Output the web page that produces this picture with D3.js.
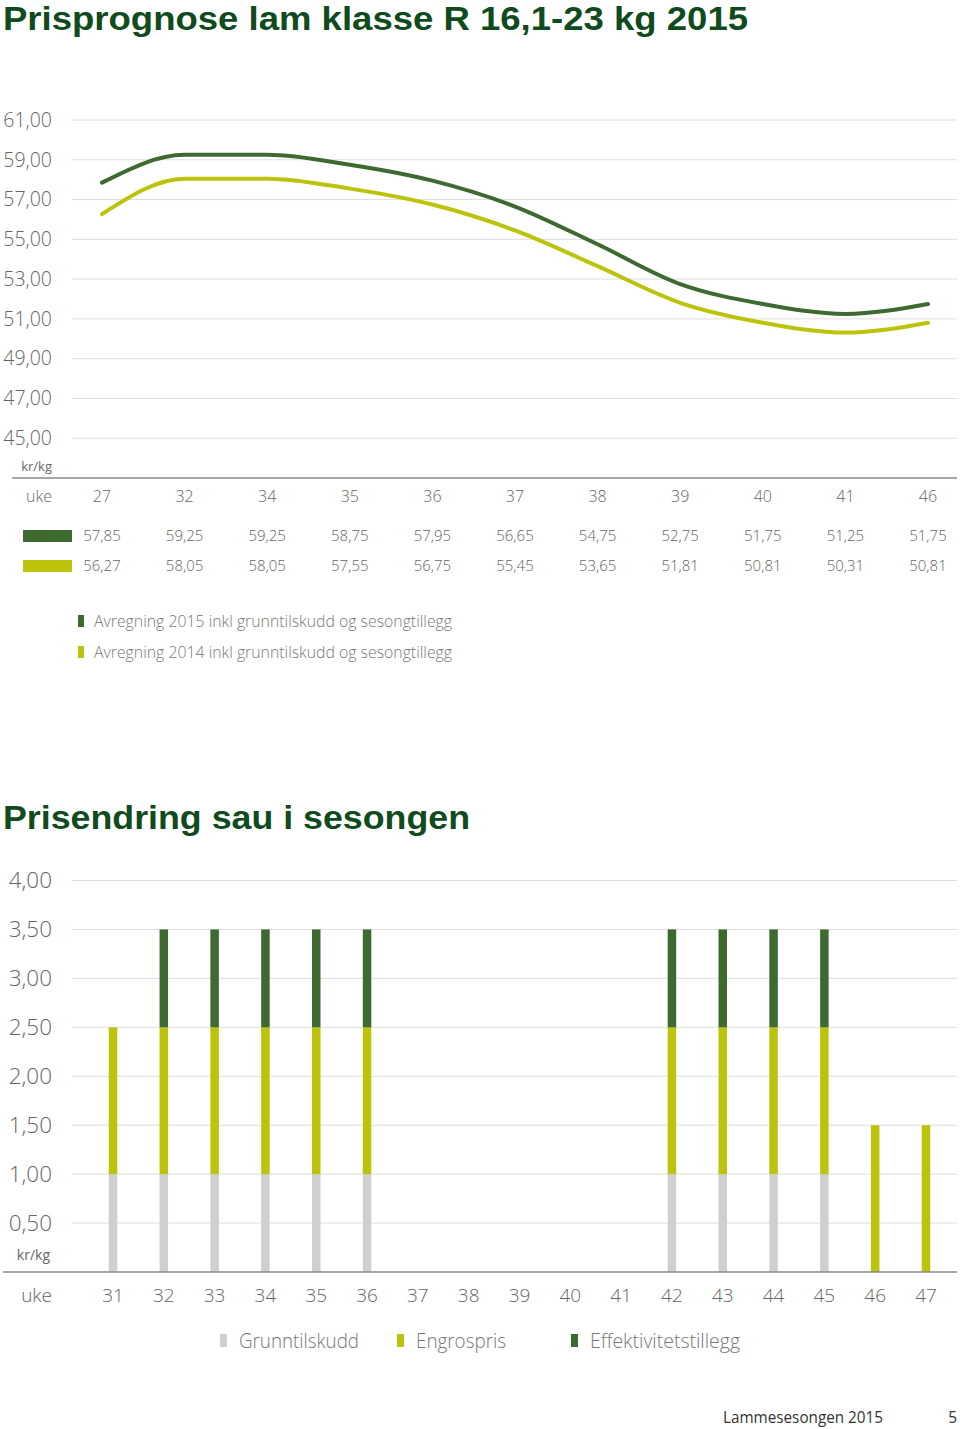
<!DOCTYPE html>
<html>
<head>
<meta charset="utf-8">
<script src="https://cdn.jsdelivr.net/npm/d3@7"></script>
<style>
  body { margin: 0; background: #fff; }
  svg text { font-family: "Open Sans", "Noto Sans", sans-serif; }
</style>
</head>
<body>
<svg id="page" width="960" height="1429"></svg>
<script>
// --- data: prisprognose lam ---
var uker = ["27","32","34","35","36","37","38","39","40","41","46"];
var avr2015 = [57.85,59.25,59.25,58.75,57.95,56.65,54.75,52.75,51.75,51.25,51.75];
var avr2014 = [56.27,58.05,58.05,57.55,56.75,55.45,53.65,51.81,50.81,50.31,50.81];
var lineTicks = [45,47,49,51,53,55,57,59,61];
var lineNames = ["Avregning 2015 inkl grunntilskudd og sesongtillegg",
                 "Avregning 2014 inkl grunntilskudd og sesongtillegg"];

// --- data: prisendring sau ---
var sauUker = ["31","32","33","34","35","36","37","38","39","40","41","42","43","44","45","46","47"];
var grunntilskudd = [1,1,1,1,1,1,0,0,0,0,0,1,1,1,1,0,0];
var engrospris    = [1.5,1.5,1.5,1.5,1.5,1.5,0,0,0,0,0,1.5,1.5,1.5,1.5,1.5,1.5];
var effektivitet  = [0,1,1,1,1,1,0,0,0,0,0,1,1,1,1,0,0];
var barTicks = [0.5,1,1.5,2,2.5,3,3.5,4];
var barNames = ["Grunntilskudd","Engrospris","Effektivitetstillegg"];

var dark = "#3d6a2f", lime = "#bcc30b", grey = "#cfcfcf";
var titleCol = "#0f4b1d", txt = "#666";

var svg = d3.select("#page");
var loc = d3.formatLocale({decimal: ",", thousands: " ", grouping: [3], currency: ["", " kr"]});
var f2 = loc.format(".2f");

// ---------- chart 1 ----------
svg.append("text").attr("x", 3).attr("y", 30)
  .attr("font-size", 32.5).attr("font-weight", 700).attr("fill", titleCol)
  .attr("textLength", 745).attr("lengthAdjust", "spacingAndGlyphs")
  .style("font-family", "'Liberation Sans', sans-serif")
  .text("Prisprognose lam klasse R 16,1-23 kg 2015");

var x1 = d3.scalePoint().domain(uker).range([102, 928]);
var y1 = d3.scaleLinear().domain([43, 61]).range([478, 120]);

var g1 = svg.append("g");
g1.selectAll("line.grid").data(lineTicks).enter().append("line")
  .attr("x1", 72).attr("x2", 957)
  .attr("y1", function(d){ return y1(d); }).attr("y2", function(d){ return y1(d); })
  .attr("stroke", "#dedede").attr("stroke-width", 1);
g1.selectAll("text.tick").data(lineTicks).enter().append("text")
  .attr("x", 52).attr("y", function(d){ return y1(d); }).attr("dy", "0.35em")
  .attr("text-anchor", "end").attr("font-size", 19.5).attr("font-weight", 300)
  .attr("fill", txt).text(function(d){ return f2(d); });
g1.append("text").attr("x", 52).attr("y", 471).attr("text-anchor", "end")
  .attr("font-size", 13).attr("fill", txt).text("kr/kg");
g1.append("line").attr("x1", 12).attr("x2", 957).attr("y1", y1(43)).attr("y2", y1(43))
  .attr("stroke", "#8a8a8a").attr("stroke-width", 1.5);

var line = d3.line()
  .x(function(d, i){ return x1(uker[i]); })
  .y(function(d){ return y1(d); })
  .curve(d3.curveMonotoneX);
[[avr2014, lime], [avr2015, dark]].forEach(function(s){
  g1.append("path").attr("d", line(s[0])).attr("fill", "none")
    .attr("stroke", s[1]).attr("stroke-width", 4).attr("stroke-linecap", "round");
});

// table under chart 1
g1.append("text").attr("x", 52).attr("y", 502).attr("text-anchor", "end")
  .attr("font-size", 16).attr("font-weight", 300).attr("fill", txt).text("uke");
g1.selectAll("text.uke").data(uker).enter().append("text")
  .attr("x", function(d){ return x1(d); }).attr("y", 502).attr("text-anchor", "middle")
  .attr("font-size", 16).attr("font-weight", 300).attr("fill", txt).text(function(d){ return d; });
[[avr2015, dark, 536], [avr2014, lime, 566]].forEach(function(s){
  g1.append("rect").attr("x", 23).attr("y", s[2] - 6).attr("width", 49).attr("height", 12).attr("fill", s[1]);
  g1.selectAll(null).data(s[0]).enter().append("text")
    .attr("x", function(d, i){ return x1(uker[i]); }).attr("y", s[2]).attr("dy", "0.35em")
    .attr("text-anchor", "middle").attr("font-size", 15).attr("font-weight", 300)
    .attr("fill", txt).text(function(d){ return f2(d); });
});

// legend chart 1
lineNames.forEach(function(n, i){
  var yy = 621 + i * 31;
  g1.append("rect").attr("x", 78).attr("y", yy - 6).attr("width", 6).attr("height", 12)
    .attr("fill", i == 0 ? dark : lime);
  g1.append("text").attr("x", 94).attr("y", yy).attr("dy", "0.35em")
    .attr("font-size", 16).attr("font-weight", 300).attr("fill", "#777")
    .attr("textLength", 358).attr("lengthAdjust", "spacingAndGlyphs").text(n);
});

// ---------- chart 2 ----------
svg.append("text").attr("x", 3).attr("y", 829)
  .attr("font-size", 32.5).attr("font-weight", 700).attr("fill", titleCol)
  .attr("textLength", 467).attr("lengthAdjust", "spacingAndGlyphs")
  .style("font-family", "'Liberation Sans', sans-serif")
  .text("Prisendring sau i sesongen");

var x2 = d3.scalePoint().domain(sauUker).range([113, 926]);
var y2 = d3.scaleLinear().domain([0, 4]).range([1272, 880.5]);

var g2 = svg.append("g");
g2.selectAll("line.grid").data(barTicks).enter().append("line")
  .attr("x1", 72).attr("x2", 957)
  .attr("y1", function(d){ return y2(d); }).attr("y2", function(d){ return y2(d); })
  .attr("stroke", "#dedede").attr("stroke-width", 1);
g2.selectAll("text.tick").data(barTicks).enter().append("text")
  .attr("x", 52).attr("y", function(d){ return y2(d); }).attr("dy", "0.35em")
  .attr("text-anchor", "end").attr("font-size", 22.5).attr("font-weight", 300)
  .attr("fill", txt).text(function(d){ return f2(d); });
g2.append("text").attr("x", 50).attr("y", 1260).attr("text-anchor", "end")
  .attr("font-size", 14).attr("fill", txt).text("kr/kg");

var stack = d3.stack().keys([0, 1, 2]).value(function(d, k){ return d[k]; });
var rows = sauUker.map(function(u, i){ return [grunntilskudd[i], engrospris[i], effektivitet[i]]; });
var layers = stack(rows);
var colors = [grey, lime, dark];
var bw = 8.5;
layers.forEach(function(layer, k){
  g2.selectAll(null).data(layer).enter().append("rect")
    .filter(function(d){ return d[1] > d[0]; })
    .attr("x", function(d){ return x2(sauUker[layer.indexOf(d)]) - bw / 2; })
    .attr("y", function(d){ return y2(d[1]); })
    .attr("width", bw)
    .attr("height", function(d){ return y2(d[0]) - y2(d[1]); })
    .attr("fill", colors[k]);
});
g2.append("line").attr("x1", 3).attr("x2", 957).attr("y1", y2(0)).attr("y2", y2(0))
  .attr("stroke", "#8a8a8a").attr("stroke-width", 1.5);

g2.append("text").attr("x", 52).attr("y", 1295).attr("dy", "0.35em").attr("text-anchor", "end")
  .attr("font-size", 19).attr("font-weight", 300).attr("fill", txt).text("uke");
g2.selectAll("text.uke").data(sauUker).enter().append("text")
  .attr("x", function(d){ return x2(d); }).attr("y", 1295).attr("dy", "0.35em")
  .attr("text-anchor", "middle").attr("font-size", 19).attr("font-weight", 300)
  .attr("fill", txt).text(function(d){ return d; });

// legend chart 2
var legX = [220, 397, 571];
var legW = [120, 90, 150];
barNames.forEach(function(n, i){
  g2.append("rect").attr("x", legX[i]).attr("y", 1334).attr("width", 7).attr("height", 13)
    .attr("fill", colors[i]);
  g2.append("text").attr("x", legX[i] + 19).attr("y", 1341).attr("dy", "0.35em")
    .attr("font-size", 19.5).attr("font-weight", 300).attr("fill", "#777")
    .attr("textLength", legW[i]).attr("lengthAdjust", "spacingAndGlyphs").text(n);
});

// footer
svg.append("text").attr("x", 723).attr("y", 1418).attr("dy", "0.35em")
  .attr("font-size", 15.5).attr("fill", "#333")
  .attr("textLength", 160).attr("lengthAdjust", "spacingAndGlyphs").text("Lammesesongen 2015");
svg.append("text").attr("x", 957).attr("y", 1418).attr("dy", "0.35em").attr("text-anchor", "end")
  .attr("font-size", 15.5).attr("fill", "#333").text("5");
</script>
</body>
</html>
